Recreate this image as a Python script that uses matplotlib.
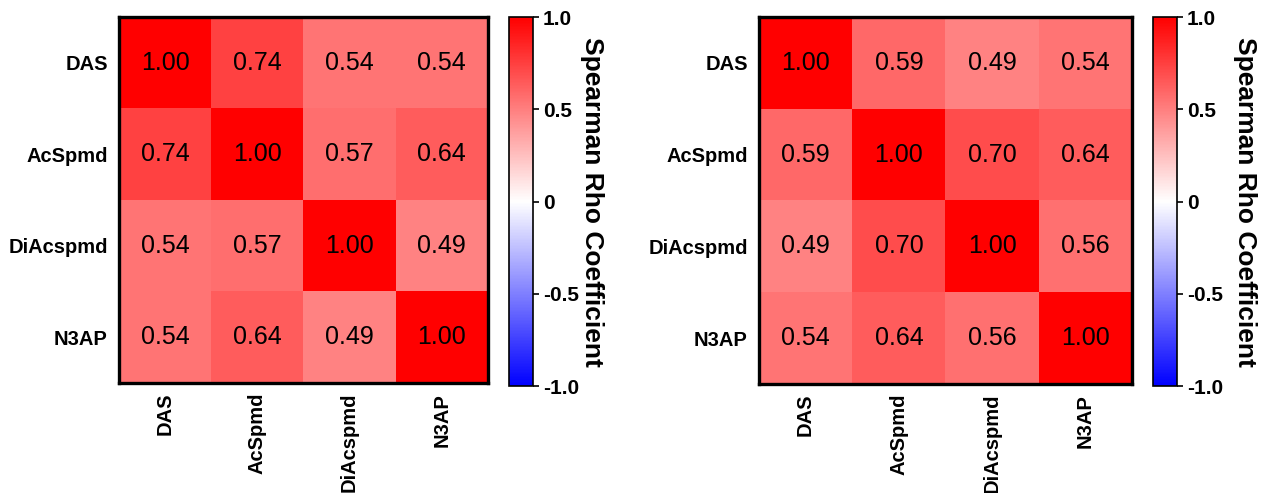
import matplotlib
matplotlib.use("Agg")
import matplotlib.pyplot as plt
import numpy as np

plt.rcParams['font.family'] = ['Liberation Sans', 'DejaVu Sans']

labels = ["DAS", "AcSpmd", "DiAcspmd", "N3AP"]

rho_left = [
    [1.00, 0.74, 0.54, 0.54],
    [0.74, 1.00, 0.57, 0.64],
    [0.54, 0.57, 1.00, 0.49],
    [0.54, 0.64, 0.49, 1.00],
]
rho_right = [
    [1.00, 0.59, 0.49, 0.54],
    [0.59, 1.00, 0.70, 0.64],
    [0.49, 0.70, 1.00, 0.56],
    [0.54, 0.64, 0.56, 1.00],
]
cbar_ticks = [-1.0, -0.5, 0, 0.5, 1.0]
cbar_ticklabels = ["-1.0", "-0.5", "0", "0.5", "1.0"]
cbar_label = "Spearman Rho Coefficient"

W, H = 1277, 493
fig = plt.figure(figsize=(W / 100, H / 100), dpi=100)

def px_axes(x0, y0, x1, y1):
    return fig.add_axes([x0 / W, 1 - y1 / H, (x1 - x0) / W, (y1 - y0) / H])

panels = [
    (rho_left, (119, 17, 488, 383), (509, 17, 533, 386), 1),
    (rho_right, (759, 17, 1132, 384), (1153, 17, 1177, 386), 7),
]

for data, hm_box, cb_box, lpad in panels:
    arr = np.array(data)
    ax = px_axes(*hm_box)
    im = ax.imshow(arr, cmap="bwr", vmin=-1, vmax=1, aspect="auto",
                   interpolation="nearest")
    for i in range(arr.shape[0]):
        for j in range(arr.shape[1]):
            ax.text(j, i, f"{arr[i, j]:.2f}", ha="center", va="center",
                    fontsize=18, color="black")
    ax.set_xticks(range(len(labels)))
    ax.set_yticks(range(len(labels)))
    ax.set_xticklabels(labels, rotation=90, fontsize=14.5, fontweight="bold")
    ax.set_yticklabels(labels, fontsize=14.5, fontweight="bold")
    ax.tick_params(axis="y", length=0, pad=8)
    ax.tick_params(axis="x", length=0, pad=7)
    for s in ax.spines.values():
        s.set_linewidth(2.4)
        s.set_color("black")

    cax = px_axes(*cb_box)
    cb = fig.colorbar(im, cax=cax, ticks=cbar_ticks)
    cb.ax.set_yticklabels(cbar_ticklabels, fontsize=15, fontweight="bold")
    cb.ax.tick_params(length=4, width=1.2, pad=3)
    cb.outline.set_linewidth(1.2)
    cb.set_label(cbar_label, rotation=270, fontsize=19, fontweight="bold",
                 labelpad=lpad, va="bottom")

fig.savefig("out.png", dpi=100)
